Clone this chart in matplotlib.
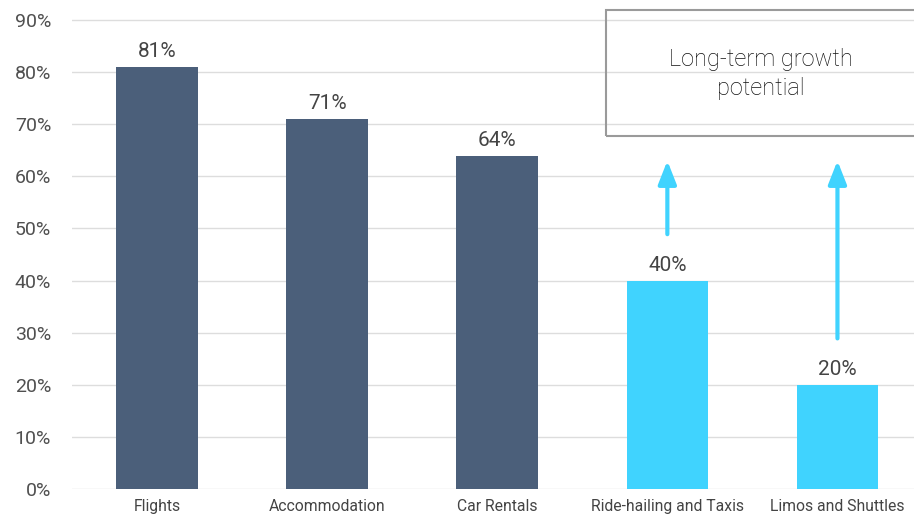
import matplotlib
matplotlib.use("Agg")
import matplotlib.pyplot as plt
from matplotlib.patches import Rectangle

plt.rcParams['font.family'] = ['Roboto', 'DejaVu Sans']

categories = ["Flights", "Accommodation", "Car Rentals", "Ride-hailing and Taxis", "Limos and Shuttles"]
values = [81, 71, 64, 40, 20]
growth = [False, False, False, True, True]
y_ticks = [0, 10, 20, 30, 40, 50, 60, 70, 80, 90]
box_text = "Long-term growth\npotential"

DARK = "#4b5f7a"
LIGHT = "#40d3fe"

fig = plt.figure(figsize=(9.14, 5.20), dpi=100)
ax = fig.add_axes([72 / 914, 31 / 520, 1 - 72 / 914, 470 / 520])

x = list(range(len(categories)))
colors = [LIGHT if g else DARK for g in growth]
ax.bar(x, values, width=0.48, color=colors, zorder=2)

for xi, v in zip(x, values):
    ax.annotate(f"{v}%", (xi, v), xytext=(0, 4), textcoords="offset points",
                ha="center", va="bottom", fontsize=15, color="#444444")

# arrows above the growth bars
for xi, v, g in zip(x, values, growth):
    if g:
        ax.annotate("", xy=(xi, 63.0), xytext=(xi, v + 8.9),
                    arrowprops=dict(arrowstyle="-|>,head_length=1.4,head_width=0.55",
                                    color=LIGHT, lw=3, shrinkA=0, shrinkB=0))

ax.set_xlim(-0.5, 4.45)
ax.set_ylim(0, 90.2)
ax.set_yticks(y_ticks)
ax.set_yticklabels([f"{t}%" for t in y_ticks])
ax.set_xticks(x)
ax.set_xticklabels(categories)
ax.tick_params(axis="y", length=0, pad=15, labelsize=14, labelcolor="#505050")
ax.tick_params(axis="x", length=0, pad=7, labelsize=11.3, labelcolor="#444444")
ax.grid(axis="y", color="#dddddd", lw=1, zorder=0)
for s in ax.spines.values():
    s.set_visible(False)

# annotation box (figure coords)
fig.patches.append(Rectangle((606 / 914, 1 - 136 / 520), 320 / 914, 126 / 520,
                             transform=fig.transFigure, fill=False,
                             edgecolor="#9a9a9a", lw=1.5, clip_on=False))
fig.text(761 / 914, 1 - 74 / 520, box_text, ha="center", va="center",
         fontsize=17, fontweight="light", color="#111111", linespacing=1.35)

fig.savefig("out.png", dpi=100)
